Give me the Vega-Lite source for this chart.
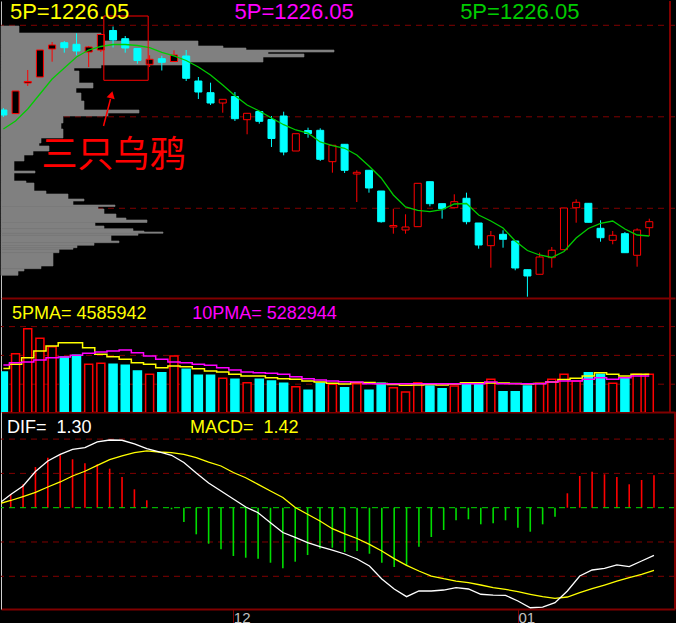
{
  "$schema": "https://vega.github.io/schema/vega-lite/v6.json",
  "background": "#000000",
  "padding": 0,
  "spacing": 0,
  "bounds": "flush",
  "config": {
    "view": {"stroke": null},
    "axis": {"labels": false, "ticks": false, "grid": false, "domain": false}
  },
  "datasets": {
    "k": [
      {"i":-1,"o":1303.72,"c":1300.98,"h":1304.81,"l":1299.89,"ma":1293.33,"v":4.98,"m5":5.41,"m10":5.83,"dif":0.54,"dea":0.54,"hist":0},
      {"i":0,"o":1301.75,"c":1314.10,"h":1314.10,"l":1301.75,"ma":1297.71,"v":7.21,"m5":5.92,"m10":6.11,"dif":1.92,"dea":1.05,"hist":1.95},
      {"i":1,"o":1318.47,"c":1319.29,"h":1325.58,"l":1316.83,"ma":1304.26,"v":10.24,"m5":6.72,"m10":6.20,"dif":3.16,"dea":1.63,"hist":3.41},
      {"i":2,"o":1321.75,"c":1336.50,"h":1336.50,"l":1321.75,"ma":1312.46,"v":9.08,"m5":7.53,"m10":6.44,"dif":5.28,"dea":2.22,"hist":5.93},
      {"i":3,"o":1337.05,"c":1339.24,"h":1340.88,"l":1330.11,"ma":1320.66,"v":8.06,"m5":8.14,"m10":6.72,"dif":6.81,"dea":3.02,"hist":7.29},
      {"i":4,"o":1340.49,"c":1337.76,"h":1341.42,"l":1335.03,"ma":1326.67,"v":6.81,"m5":8.54,"m10":6.81,"dif":7.78,"dea":3.75,"hist":7.64},
      {"i":5,"o":1339.62,"c":1335.96,"h":1345.63,"l":1333.61,"ma":1332.68,"v":7.01,"m5":8.54,"m10":7.01,"dif":8.51,"dea":4.62,"hist":7.06},
      {"i":6,"o":1335.41,"c":1338.14,"h":1338.69,"l":1327.21,"ma":1336.50,"v":5.92,"m5":7.94,"m10":7.25,"dif":8.75,"dea":5.31,"hist":6.47},
      {"i":7,"o":1336.50,"c":1344.97,"h":1344.97,"l":1335.41,"ma":1338.42,"v":6.04,"m5":7.13,"m10":7.41,"dif":9.58,"dea":6.18,"hist":6.33},
      {"i":8,"o":1347.16,"c":1341.97,"h":1349.35,"l":1337.87,"ma":1339.51,"v":5.92,"m5":6.84,"m10":7.53,"dif":9.87,"dea":7.00,"hist":5.69},
      {"i":9,"o":1342.68,"c":1337.60,"h":1344.15,"l":1335.03,"ma":1339.51,"v":5.80,"m5":6.53,"m10":7.66,"dif":9.83,"dea":7.54,"hist":4.48},
      {"i":10,"o":1337.32,"c":1330.77,"h":1337.60,"l":1329.02,"ma":1338.96,"v":5.10,"m5":6.11,"m10":7.33,"dif":9.29,"dea":8.02,"hist":2.68},
      {"i":11,"o":1328.69,"c":1331.42,"h":1333.61,"l":1327.21,"ma":1337.76,"v":4.70,"m5":5.92,"m10":6.93,"dif":8.60,"dea":8.27,"hist":1.08},
      {"i":12,"o":1331.75,"c":1329.78,"h":1333.39,"l":1325.30,"ma":1335.25,"v":4.90,"m5":5.50,"m10":6.53,"dif":8.12,"dea":8.12,"hist":0},
      {"i":13,"o":1330.22,"c":1333.77,"h":1336.34,"l":1330.11,"ma":1333.23,"v":6.93,"m5":5.71,"m10":6.20,"dif":7.64,"dea":8.02,"hist":-0.23},
      {"i":14,"o":1333.23,"c":1321.04,"h":1336.50,"l":1319.56,"ma":1330.77,"v":5.31,"m5":5.63,"m10":6.11,"dif":6.59,"dea":7.78,"hist":-2.08},
      {"i":15,"o":1319.56,"c":1313.55,"h":1321.75,"l":1309.73,"ma":1327.21,"v":4.58,"m5":5.38,"m10":5.92,"dif":5.06,"dea":7.29,"hist":-3.88},
      {"i":16,"o":1313.17,"c":1307.54,"h":1318.64,"l":1306.45,"ma":1322.84,"v":4.58,"m5":5.10,"m10":5.80,"dif":3.60,"dea":6.66,"hist":-5.25},
      {"i":17,"o":1307.54,"c":1309.56,"h":1309.56,"l":1302.24,"ma":1317.38,"v":4.22,"m5":4.98,"m10":5.50,"dif":2.43,"dea":6.08,"hist":-6.06},
      {"i":18,"o":1311.09,"c":1298.96,"h":1313.55,"l":1297.71,"ma":1311.53,"v":4.10,"m5":4.70,"m10":5.23,"dif":1.27,"dea":5.13,"hist":-7.04},
      {"i":19,"o":1298.42,"c":1301.91,"h":1301.91,"l":1290.44,"ma":1306.45,"v":3.68,"m5":4.50,"m10":4.98,"dif":0.10,"dea":4.37,"hist":-7.29},
      {"i":20,"o":1302.90,"c":1297.54,"h":1302.90,"l":1296.23,"ma":1303.17,"v":4.10,"m5":4.50,"m10":4.90,"dif":-0.73,"dea":3.41,"hist":-7.43},
      {"i":21,"o":1298.53,"c":1288.14,"h":1300.44,"l":1283.50,"ma":1299.35,"v":3.89,"m5":4.29,"m10":4.82,"dif":-2.19,"dea":2.43,"hist":-8.02},
      {"i":22,"o":1300.44,"c":1280.77,"h":1302.79,"l":1278.96,"ma":1295.68,"v":3.61,"m5":4.17,"m10":4.70,"dif":-3.62,"dea":1.49,"hist":-8.83},
      {"i":23,"o":1281.31,"c":1290.77,"h":1290.77,"l":1281.31,"ma":1292.79,"v":3.20,"m5":4.10,"m10":4.41,"dif":-4.34,"dea":0.03,"hist":-7.87},
      {"i":24,"o":1292.51,"c":1290.88,"h":1294.05,"l":1288.58,"ma":1291.15,"v":2.76,"m5":3.89,"m10":4.17,"dif":-5.10,"dea":-0.96,"hist":-6.90},
      {"i":25,"o":1292.62,"c":1276.78,"h":1293.72,"l":1275.85,"ma":1286.23,"v":3.61,"m5":3.77,"m10":4.01,"dif":-5.69,"dea":-1.94,"hist":-5.98},
      {"i":26,"o":1275.47,"c":1284.43,"h":1284.43,"l":1269.46,"ma":1284.21,"v":3.49,"m5":3.61,"m10":3.89,"dif":-6.17,"dea":-3.06,"hist":-5.83},
      {"i":27,"o":1284.97,"c":1270.77,"h":1284.97,"l":1269.29,"ma":1282.79,"v":3.07,"m5":3.52,"m10":3.80,"dif":-6.75,"dea":-3.83,"hist":-6.46},
      {"i":28,"o":1268.75,"c":1269.67,"h":1270.77,"l":1253.44,"ma":1279.13,"v":3.56,"m5":3.71,"m10":3.77,"dif":-7.48,"dea":-4.49,"hist":-6.31},
      {"i":29,"o":1270.77,"c":1261.09,"h":1270.77,"l":1258.53,"ma":1273.12,"v":2.76,"m5":3.71,"m10":3.56,"dif":-8.50,"dea":-5.34,"hist":-6.71},
      {"i":30,"o":1259.45,"c":1242.68,"h":1259.45,"l":1242.13,"ma":1266.56,"v":3.61,"m5":3.58,"m10":3.56,"dif":-10.39,"dea":-6.31,"hist":-8.02},
      {"i":31,"o":1239.78,"c":1240.60,"h":1249.78,"l":1236.12,"ma":1257.27,"v":3.07,"m5":3.46,"m10":3.56,"dif":-11.85,"dea":-7.43,"hist":-8.64},
      {"i":32,"o":1238.14,"c":1239.78,"h":1246.72,"l":1236.12,"ma":1250.71,"v":2.55,"m5":3.37,"m10":3.56,"dif":-12.97,"dea":-8.40,"hist":-8.50},
      {"i":33,"o":1239.95,"c":1263.66,"h":1263.66,"l":1239.95,"ma":1248.91,"v":3.68,"m5":3.40,"m10":3.56,"dif":-12.14,"dea":-9.23,"hist":-5.69},
      {"i":34,"o":1264.54,"c":1252.52,"h":1264.54,"l":1251.09,"ma":1248.14,"v":3.28,"m5":3.46,"m10":3.56,"dif":-12.14,"dea":-9.96,"hist":-4.27},
      {"i":35,"o":1252.52,"c":1249.78,"h":1252.52,"l":1244.32,"ma":1249.24,"v":2.95,"m5":3.40,"m10":3.56,"dif":-12.00,"dea":-10.35,"hist":-3.25},
      {"i":36,"o":1250.33,"c":1253.61,"h":1257.65,"l":1250.33,"ma":1252.35,"v":3.28,"m5":3.52,"m10":3.56,"dif":-11.66,"dea":-10.69,"hist":-1.84},
      {"i":37,"o":1255.47,"c":1242.68,"h":1258.53,"l":1241.26,"ma":1252.62,"v":3.49,"m5":3.68,"m10":3.56,"dif":-11.85,"dea":-10.93,"hist":-1.69},
      {"i":38,"o":1241.97,"c":1229.95,"h":1241.97,"l":1227.93,"ma":1246.34,"v":3.49,"m5":3.68,"m10":3.56,"dif":-12.62,"dea":-11.27,"hist":-2.42},
      {"i":39,"o":1229.57,"c":1235.03,"h":1237.60,"l":1217.54,"ma":1243.06,"v":4.10,"m5":3.65,"m10":3.77,"dif":-12.73,"dea":-11.66,"hist":-2.27},
      {"i":40,"o":1235.79,"c":1233.06,"h":1237.98,"l":1228.47,"ma":1239.24,"v":2.59,"m5":3.65,"m10":3.56,"dif":-12.77,"dea":-11.90,"hist":-1.84},
      {"i":41,"o":1232.13,"c":1217.38,"h":1232.13,"l":1216.12,"ma":1232.13,"v":2.59,"m5":3.58,"m10":3.56,"dif":-13.60,"dea":-12.24,"hist":-2.92},
      {"i":42,"o":1216.45,"c":1213.01,"h":1216.45,"l":1201.70,"ma":1226.94,"v":3.28,"m5":3.52,"m10":3.56,"dif":-14.58,"dea":-12.62,"hist":-3.50},
      {"i":43,"o":1213.94,"c":1223.39,"h":1225.74,"l":1213.94,"ma":1224.48,"v":3.61,"m5":3.58,"m10":3.56,"dif":-14.48,"dea":-12.97,"hist":-2.42},
      {"i":44,"o":1223.01,"c":1227.05,"h":1228.85,"l":1217.54,"ma":1223.12,"v":4.10,"m5":3.77,"m10":3.77,"dif":-13.85,"dea":-13.21,"hist":-1.31},
      {"i":45,"o":1227.38,"c":1250.17,"h":1250.17,"l":1227.38,"ma":1226.40,"v":4.70,"m5":4.07,"m10":3.89,"dif":-12.14,"dea":-13.02,"hist":2.10},
      {"i":46,"o":1250.33,"c":1253.28,"h":1254.92,"l":1242.13,"ma":1233.77,"v":3.89,"m5":4.22,"m10":3.89,"dif":-9.96,"dea":-12.39,"hist":4.62},
      {"i":47,"o":1252.73,"c":1242.35,"h":1252.73,"l":1242.35,"ma":1238.96,"v":4.90,"m5":4.50,"m10":4.10,"dif":-9.08,"dea":-11.81,"hist":5.25},
      {"i":48,"o":1239.07,"c":1233.93,"h":1243.44,"l":1231.75,"ma":1241.70,"v":4.70,"m5":4.90,"m10":4.29,"dif":-8.83,"dea":-11.27,"hist":4.87},
      {"i":49,"o":1232.51,"c":1235.25,"h":1237.60,"l":1230.33,"ma":1243.06,"v":3.61,"m5":4.70,"m10":4.10,"dif":-8.35,"dea":-10.69,"hist":4.48},
      {"i":50,"o":1236.12,"c":1225.74,"h":1237.05,"l":1225.74,"ma":1238.69,"v":4.29,"m5":4.50,"m10":4.29,"dif":-8.60,"dea":-10.20,"hist":3.41},
      {"i":51,"o":1224.32,"c":1238.14,"h":1239.07,"l":1218.09,"ma":1235.41,"v":4.70,"m5":4.70,"m10":4.50,"dif":-7.77,"dea":-9.71,"hist":4.04},
      {"i":52,"o":1239.40,"c":1242.68,"h":1244.32,"l":1234.86,"ma":1234.86,"v":4.70,"m5":4.70,"m10":4.50,"dif":-6.94,"dea":-9.13,"hist":4.72}
    ],
    "prof": [
      {"p1":1349.62,"p2":1345.79,"w":18},
      {"p1":1345.79,"p2":1341.42,"w":100},
      {"p1":1341.42,"p2":1338.69,"w":197},
      {"p1":1338.69,"p2":1337.60,"w":222},
      {"p1":1337.60,"p2":1336.50,"w":245},
      {"p1":1336.50,"p2":1335.41,"w":333},
      {"p1":1335.41,"p2":1334.32,"w":267},
      {"p1":1334.32,"p2":1332.68,"w":303},
      {"p1":1332.68,"p2":1329.95,"w":262},
      {"p1":1329.95,"p2":1328.31,"w":183},
      {"p1":1328.31,"p2":1326.67,"w":100},
      {"p1":1326.67,"p2":1325.03,"w":73},
      {"p1":1325.03,"p2":1318.47,"w":78},
      {"p1":1318.47,"p2":1315.74,"w":92},
      {"p1":1315.74,"p2":1313.01,"w":75},
      {"p1":1313.01,"p2":1308.64,"w":80},
      {"p1":1308.64,"p2":1303.72,"w":83},
      {"p1":1303.72,"p2":1302.08,"w":138},
      {"p1":1302.08,"p2":1300.44,"w":107},
      {"p1":1300.44,"p2":1296.61,"w":62},
      {"p1":1296.61,"p2":1293.33,"w":60},
      {"p1":1293.33,"p2":1288.42,"w":62},
      {"p1":1288.42,"p2":1285.68,"w":40},
      {"p1":1285.68,"p2":1284.05,"w":38},
      {"p1":1284.05,"p2":1281.31,"w":48},
      {"p1":1281.31,"p2":1279.13,"w":32},
      {"p1":1279.13,"p2":1275.85,"w":23},
      {"p1":1275.85,"p2":1270.38,"w":13},
      {"p1":1270.38,"p2":1269.29,"w":34},
      {"p1":1269.29,"p2":1264.92,"w":13},
      {"p1":1264.92,"p2":1263.83,"w":25},
      {"p1":1263.83,"p2":1259.45,"w":33},
      {"p1":1259.45,"p2":1257.82,"w":45},
      {"p1":1257.82,"p2":1255.08,"w":67},
      {"p1":1255.08,"p2":1253.99,"w":83},
      {"p1":1253.99,"p2":1251.80,"w":72},
      {"p1":1251.80,"p2":1250.99,"w":114},
      {"p1":1250.99,"p2":1249.62,"w":97},
      {"p1":1249.62,"p2":1246.89,"w":103},
      {"p1":1246.89,"p2":1244.70,"w":115},
      {"p1":1244.70,"p2":1243.61,"w":125},
      {"p1":1243.61,"p2":1242.24,"w":146},
      {"p1":1242.24,"p2":1240.33,"w":94},
      {"p1":1240.33,"p2":1238.85,"w":103},
      {"p1":1238.85,"p2":1237.60,"w":132},
      {"p1":1237.60,"p2":1237.05,"w":143},
      {"p1":1237.05,"p2":1236.34,"w":162},
      {"p1":1236.34,"p2":1235.25,"w":137},
      {"p1":1235.25,"p2":1232.13,"w":110},
      {"p1":1232.13,"p2":1231.20,"w":118},
      {"p1":1231.20,"p2":1229.78,"w":93},
      {"p1":1229.78,"p2":1228.47,"w":76},
      {"p1":1228.47,"p2":1227.60,"w":72},
      {"p1":1227.60,"p2":1225.74,"w":58},
      {"p1":1225.74,"p2":1218.47,"w":52},
      {"p1":1218.47,"p2":1216.99,"w":40},
      {"p1":1216.99,"p2":1215.74,"w":23},
      {"p1":1215.74,"p2":1213.39,"w":17}
    ]
  },
  "vconcat": [
    {
      "width": 674,
      "height": 297,
      "layer": [
        {
          "data": {"values": [{"g": 1250}, {"g": 1300}, {"g": 1350}]},
          "mark": {"type": "rule", "color": "#800000", "strokeDash": [6, 5], "strokeWidth": 1},
          "encoding": {
            "y": {"field": "g", "type": "quantitative", "title": null, "scale": {"domain": [1200.98, 1363.28], "nice": false, "zero": false}, "axis": {"domain": true, "domainColor": "#c0c0c0", "domainWidth": 1}}
          }
        },
        {
          "data": {"name": "prof"},
          "mark": {"type": "rect", "color": "#808080", "stroke": "#808080", "strokeWidth": 0.6},
          "encoding": {
            "x": {"field": "w", "type": "quantitative", "title": null, "scale": {"domain": [0, 674], "nice": false, "zero": false}, "axis": null},
            "x2": {"datum": 0},
            "y": {"field": "p1", "type": "quantitative", "title": null, "scale": {"domain": [1200.98, 1363.28], "nice": false, "zero": false}},
            "y2": {"field": "p2"}
          }
        },
        {
          "layer": [
            {
              "data": {"name": "k"},
              "mark": {"type": "rule", "strokeWidth": 1, "clip": true},
              "encoding": {
                "x": {"field": "i", "type": "quantitative", "title": null, "scale": {"domain": [-0.784, 53.7], "nice": false, "zero": false}, "axis": {"domain": true, "domainColor": "#800000", "domainWidth": 2}},
                "y": {"field": "h", "type": "quantitative", "title": null, "scale": {"domain": [1200.98, 1363.28], "nice": false, "zero": false}},
                "y2": {"field": "l"},
                "color": {"condition": {"test": "datum.c >= datum.o", "value": "#ff0000"}, "value": "#00ffff"}
              }
            },
            {
              "data": {"name": "k"},
              "mark": {"type": "bar", "size": 7, "strokeWidth": 1, "clip": true},
              "encoding": {
                "x": {"field": "i", "type": "quantitative", "title": null},
                "y": {"field": "o", "type": "quantitative", "title": null},
                "y2": {"field": "c"},
                "fill": {"condition": {"test": "datum.c >= datum.o", "value": "#000000"}, "value": "#00ffff"},
                "stroke": {"condition": {"test": "datum.c >= datum.o", "value": "#ff0000"}, "value": "#00ffff"}
              }
            },
            {
              "data": {"name": "k"},
              "mark": {"type": "line", "color": "#00cc00", "strokeWidth": 1.3, "clip": true},
              "encoding": {
                "x": {"field": "i", "type": "quantitative", "title": null},
                "y": {"field": "ma", "type": "quantitative", "title": null}
              }
            },
            {
              "data": {"values": [{}]},
              "mark": {"type": "rect", "filled": false, "color": "#ff0000", "strokeWidth": 1},
              "encoding": {
                "x": {"datum": 7.244}, "x2": {"datum": 10.882},
                "y": {"datum": 1355.08}, "y2": {"datum": 1319.95}
              }
            },
            {
              "data": {"values": [{}]},
              "mark": {"type": "rule", "color": "#ff0000", "strokeWidth": 1.5},
              "encoding": {
                "x": {"datum": 7.219}, "y": {"datum": 1294.97},
                "x2": {"datum": 7.79}, "y2": {"datum": 1309.73}
              }
            },
            {
              "data": {"values": [{}]},
              "mark": {"type": "point", "shape": "triangle-up", "filled": true, "color": "#ff0000", "size": 70, "angle": 14, "opacity": 1},
              "encoding": {"x": {"datum": 7.874}, "y": {"datum": 1312.08}}
            },
            {
              "data": {"values": [{}]},
              "mark": {"type": "text", "text": "三只乌鸦", "font": "Noto Sans CJK SC", "fontSize": 36, "color": "#ff0000", "align": "left", "baseline": "alphabetic"},
              "encoding": {"x": {"datum": 2.126}, "y": {"datum": 1272.35}}
            },
            {
              "data": {"values": [{}]},
              "mark": {"type": "text", "text": "5P=1226.05", "font": "Liberation Sans", "fontSize": 22, "color": "#ffff00", "align": "left", "baseline": "alphabetic"},
              "encoding": {"x": {"datum": -0.461}, "y": {"datum": 1353.28}}
            },
            {
              "data": {"values": [{}]},
              "mark": {"type": "text", "text": "5P=1226.05", "font": "Liberation Sans", "fontSize": 22, "color": "#ff00ff", "align": "left", "baseline": "alphabetic"},
              "encoding": {"x": {"datum": 17.97}, "y": {"datum": 1353.28}}
            },
            {
              "data": {"values": [{}]},
              "mark": {"type": "text", "text": "5P=1226.05", "font": "Liberation Sans", "fontSize": 22, "color": "#00cc00", "align": "left", "baseline": "alphabetic"},
              "encoding": {"x": {"datum": 36.48}, "y": {"datum": 1353.28}}
            },
            {
              "data": {"values": [{}]},
              "mark": {"type": "rule", "color": "#800000", "strokeWidth": 2},
              "encoding": {"x": {"datum": 53.7}}
            }
          ]
        }
      ],
      "resolve": {"scale": {"x": "independent"}}
    },
    {
      "width": 674,
      "height": 114,
      "layer": [
        {
          "data": {"values": [{"g": 3.5}, {"g": 7}, {"g": 10.5}]},
          "mark": {"type": "rule", "color": "#800000", "strokeDash": [6, 5], "strokeWidth": 1},
          "encoding": {
            "y": {"field": "g", "type": "quantitative", "title": null, "scale": {"domain": [0.1215, 13.975], "nice": false, "zero": false}, "axis": {"domain": true, "domainColor": "#c0c0c0", "domainWidth": 1}}
          }
        },
        {
          "data": {"name": "k"},
          "mark": {"type": "bar", "size": 8, "strokeWidth": 1.5, "clip": true},
          "encoding": {
            "x": {"field": "i", "type": "quantitative", "title": null, "scale": {"domain": [-0.784, 53.7], "nice": false, "zero": false}, "axis": {"domain": true, "domainColor": "#800000", "domainWidth": 2}},
            "y": {"field": "v", "type": "quantitative", "title": null, "scale": {"domain": [0.1215, 13.975], "nice": false, "zero": false}},
            "fill": {"condition": {"test": "datum.c >= datum.o", "value": "#000000"}, "value": "#00ffff"},
            "stroke": {"condition": {"test": "datum.c >= datum.o", "value": "#ff0000"}, "value": "#00ffff"}
          }
        },
        {
          "data": {"name": "k"},
          "mark": {"type": "line", "interpolate": "step", "color": "#ffff00", "strokeWidth": 1.5, "clip": true},
          "encoding": {
            "x": {"field": "i", "type": "quantitative", "title": null},
            "y": {"field": "m5", "type": "quantitative", "title": null}
          }
        },
        {
          "data": {"name": "k"},
          "mark": {"type": "line", "interpolate": "step", "color": "#ff00ff", "strokeWidth": 1.5, "clip": true},
          "encoding": {
            "x": {"field": "i", "type": "quantitative", "title": null},
            "y": {"field": "m10", "type": "quantitative", "title": null}
          }
        },
        {
          "data": {"values": [{}]},
          "mark": {"type": "text", "text": "5PMA= 4585942", "font": "Liberation Sans", "fontSize": 18, "color": "#ffff00", "align": "left", "baseline": "alphabetic"},
          "encoding": {"x": {"datum": -0.3}, "y": {"datum": 11.387}}
        },
        {
          "data": {"values": [{}]},
          "mark": {"type": "text", "text": "10PMA= 5282944", "font": "Liberation Sans", "fontSize": 18, "color": "#ff00ff", "align": "left", "baseline": "alphabetic"},
          "encoding": {"x": {"datum": 14.49}, "y": {"datum": 11.387}}
        },
        {
          "data": {"values": [{}]},
          "mark": {"type": "rule", "color": "#800000", "strokeWidth": 2},
          "encoding": {"x": {"datum": 53.7}}
        }
      ]
    },
    {
      "width": 674,
      "height": 197,
      "layer": [
        {
          "data": {"values": [{"g": -10}, {"g": -5}, {"g": 5}, {"g": 10}]},
          "mark": {"type": "rule", "color": "#800000", "strokeDash": [6, 5], "strokeWidth": 1},
          "encoding": {
            "y": {"field": "g", "type": "quantitative", "title": null, "scale": {"domain": [-14.767, 13.95], "nice": false, "zero": false}, "axis": {"domain": true, "domainColor": "#d0d0d0", "domainWidth": 1}}
          }
        },
        {
          "data": {"name": "k"},
          "mark": {"type": "rule", "strokeWidth": 1.6, "clip": true},
          "encoding": {
            "x": {"field": "i", "type": "quantitative", "title": null, "scale": {"domain": [-0.784, 53.7], "nice": false, "zero": false},
              "axis": {"values": [18, 41], "labelExpr": "datum.value == 18 ? '12' : '01'", "domain": true, "domainColor": "#800000", "domainWidth": 2, "ticks": true, "tickColor": "#800000", "tickSize": 15, "tickWidth": 1, "labels": true, "labelColor": "#c0c0c0", "labelFont": "Liberation Sans", "labelFontSize": 15, "labelAlign": "left", "labelBaseline": "top", "labelPadding": -14, "labelDx": 1.5, "labelFlush": false, "labelOverlap": false}},
            "y": {"field": "hist", "type": "quantitative", "title": null, "scale": {"domain": [-14.767, 13.95], "nice": false, "zero": false}},
            "y2": {"datum": 0},
            "color": {"condition": {"test": "datum.hist >= 0", "value": "#ff0000"}, "value": "#00dd00"}
          }
        },
        {
          "data": {"values": [{}]},
          "mark": {"type": "rule", "color": "#00dd00", "strokeDash": [6, 5], "strokeWidth": 1},
          "encoding": {"y": {"datum": 0}}
        },
        {
          "data": {"name": "k"},
          "mark": {"type": "line", "color": "#ffff00", "strokeWidth": 1.3, "clip": true},
          "encoding": {
            "x": {"field": "i", "type": "quantitative", "title": null},
            "y": {"field": "dea", "type": "quantitative", "title": null}
          }
        },
        {
          "data": {"name": "k"},
          "mark": {"type": "line", "color": "#ffffff", "strokeWidth": 1.3, "clip": true},
          "encoding": {
            "x": {"field": "i", "type": "quantitative", "title": null},
            "y": {"field": "dif", "type": "quantitative", "title": null}
          }
        },
        {
          "data": {"values": [{}]},
          "mark": {"type": "text", "text": "DIF=\u00a0\u00a01.30", "font": "Liberation Sans", "fontSize": 18, "color": "#ffffff", "align": "left", "baseline": "alphabetic"},
          "encoding": {"x": {"datum": -0.3}, "y": {"datum": 10.93}}
        },
        {
          "data": {"values": [{}]},
          "mark": {"type": "text", "text": "MACD=\u00a0\u00a01.42", "font": "Liberation Sans", "fontSize": 18, "color": "#ffff00", "align": "left", "baseline": "alphabetic"},
          "encoding": {"x": {"datum": 14.49}, "y": {"datum": 10.93}}
        },
        {
          "data": {"values": [{}]},
          "mark": {"type": "rule", "color": "#800000", "strokeWidth": 2},
          "encoding": {"x": {"datum": 53.7}}
        }
      ]
    }
  ]
}
